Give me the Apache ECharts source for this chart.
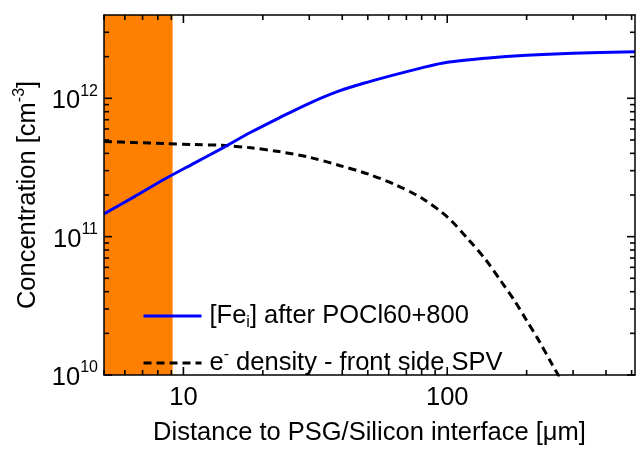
<!DOCTYPE html>
<html>
<head>
<meta charset="utf-8">
<script src="https://cdn.jsdelivr.net/npm/echarts@6/dist/echarts.min.js"></script>
<style>
html,body{margin:0;padding:0;background:#fff;}
#chart{width:641px;height:451px;}
</style>
</head>
<body>
<div id="chart"></div>
<script>
// [Fe_i] after POCl60+800
var feX = [5, 6.5, 8.5, 11, 14, 18, 23, 30, 39, 50, 64, 80, 100, 140, 200, 300, 515];
var feY = [1.46e11, 1.94e11, 2.61e11, 3.4e11, 4.35e11, 5.68e11, 7.2e11, 9.2e11, 1.13e12, 1.31e12, 1.49e12, 1.66e12, 1.82e12, 1.95e12, 2.05e12, 2.12e12, 2.17e12];
// e- density - front side SPV
var eX = [5, 6.5, 8.5, 11, 14, 18, 23, 30, 39, 50, 64, 80, 100, 120, 140, 160, 180, 200, 225, 250, 280];
var eY = [4.87e11, 4.79e11, 4.71e11, 4.63e11, 4.57e11, 4.39e11, 4.12e11, 3.75e11, 3.27e11, 2.84e11, 2.36e11, 1.9e11, 1.39e11, 9.6e10, 6.8e10, 4.76e10, 3.44e10, 2.48e10, 1.71e10, 1.19e10, 8.2e9];
// shaded region
var bandX = [5, 9.1];
// axes
var xRange = [5, 515];
var yRange = [1e10, 4e12];
var xMajor = [10, 100];
var xMinor = [5, 6, 7, 8, 9, 20, 30, 40, 50, 60, 70, 80, 90, 200, 300, 400, 500];
var yMajor = [1e10, 1e11, 1e12];
var yMinor = [2e10, 3e10, 4e10, 5e10, 6e10, 7e10, 8e10, 9e10, 2e11, 3e11, 4e11, 5e11, 6e11, 7e11, 8e11, 9e11, 2e12, 3e12];
var seriesNames = ['fe', 'e'];

var FONT = 'Liberation Sans, Arial, sans-serif';
var FS = 25.5;
var TICK_MAJOR = 8, TICK_MINOR = 5;
function zip(a, b) { return a.map(function (v, i) { return [v, b[i]]; }); }
function lg(arr) { return arr.map(function (v) { return Math.log10(v); }); }

// log axes carry the data; linear-in-log10 axes draw the frame and labels
function dataAxis(range, pos) {
  return { type: 'log', logBase: 10, min: range[0], max: range[1], position: pos, show: false, splitLine: { show: false } };
}
function frameAxis(range, pos) {
  return {
    type: 'value', min: Math.log10(range[0]), max: Math.log10(range[1]), position: pos, z: 10,
    axisLine: { show: true, onZero: false, lineStyle: { color: '#000', width: 1.5 } },
    splitLine: { show: false }, minorTick: { show: false },
    axisTick: { show: false }, axisLabel: { show: false }
  };
}

var xAxes = [dataAxis(xRange, 'bottom'), frameAxis(xRange, 'bottom'), frameAxis(xRange, 'top')];
xAxes[1].axisLabel = {
  show: true, customValues: lg(xMajor), margin: 10, color: '#000', fontSize: FS, fontFamily: FONT,
  formatter: function (v) { return String(Math.round(Math.pow(10, v))); }
};
xAxes[1].name = 'Distance to PSG/Silicon interface [μm]';
xAxes[1].nameLocation = 'middle';
xAxes[1].nameGap = 45;
xAxes[1].nameTextStyle = { fontSize: FS, fontFamily: FONT, color: '#000' };

var yAxes = [dataAxis(yRange, 'left'), frameAxis(yRange, 'left'), frameAxis(yRange, 'right')];
yAxes[1].axisLabel = {
  show: true, customValues: lg(yMajor), margin: 6, color: '#000', fontFamily: FONT,
  formatter: function (v) { return '{b|10}{s|' + Math.round(v) + '}'; },
  rich: {
    b: { fontSize: FS, fontFamily: FONT, color: '#000', verticalAlign: 'middle', padding: [6, 0, 0, 0] },
    s: { fontSize: 16, fontFamily: FONT, color: '#000', verticalAlign: 'middle', padding: [0, 0, 14, 0] }
  }
};
yAxes[1].name = 'Concentration [cm{s|-3}]';
yAxes[1].nameLocation = 'middle';
yAxes[1].nameGap = 57;
yAxes[1].nameTextStyle = {
  fontSize: FS, fontFamily: FONT, color: '#000',
  rich: { s: { fontSize: 16, fontFamily: FONT, color: '#000', verticalAlign: 'middle', padding: [0, 0, 16, 0] } }
};

var legendRich = {
  sub: { fontSize: 16, fontFamily: FONT, color: '#000', verticalAlign: 'middle', padding: [14, 0, 0, 0] },
  sup: { fontSize: 16, fontFamily: FONT, color: '#000', verticalAlign: 'middle', padding: [0, 0, 16, 0] }
};
function legendLabel(name) {
  return name === 'fe' ? '[Fe{sub|i}] after POCl60+800' : 'e{sup|-} density - front side SPV';
}
function makeLegend(name, top) {
  return {
    data: [name], left: 142, top: top, orient: 'vertical', padding: 0,
    itemWidth: 58, itemHeight: 14, itemGap: 0, selectedMode: false,
    itemStyle: { opacity: 0 },
    lineStyle: { width: 3 },
    formatter: legendLabel,
    textStyle: { fontSize: FS, fontFamily: FONT, color: '#000', rich: legendRich, padding: [0, 0, 0, 3] }
  };
}

// tick marks, positioned through the log axes
var xTickData = xMajor.map(function (v) { return [v, yRange[0], 1]; }).concat(xMinor.map(function (v) { return [v, yRange[0], 0]; }));
var yTickData = yMajor.map(function (v) { return [xRange[0], v, 1]; }).concat(yMinor.map(function (v) { return [xRange[0], v, 0]; }));
var tickStyle = { stroke: '#000', lineWidth: 1.6 };
function renderXTick(params, api) {
  var v = api.value(0), len = api.value(2) ? TICK_MAJOR : TICK_MINOR;
  var b = api.coord([v, yRange[0]]), t = api.coord([v, yRange[1]]);
  return { type: 'group', children: [
    { type: 'line', shape: { x1: b[0], y1: b[1], x2: b[0], y2: b[1] - len }, style: tickStyle },
    { type: 'line', shape: { x1: t[0], y1: t[1], x2: t[0], y2: t[1] + len }, style: tickStyle }
  ] };
}
function renderYTick(params, api) {
  var v = api.value(1), len = api.value(2) ? TICK_MAJOR : TICK_MINOR;
  var l = api.coord([xRange[0], v]), r = api.coord([xRange[1], v]);
  return { type: 'group', children: [
    { type: 'line', shape: { x1: l[0], y1: l[1], x2: l[0] + len, y2: l[1] }, style: tickStyle },
    { type: 'line', shape: { x1: r[0], y1: r[1], x2: r[0] - len, y2: r[1] }, style: tickStyle }
  ] };
}

var option = {
  animation: false,
  backgroundColor: '#fff',
  textStyle: { fontFamily: FONT },
  grid: { left: 104, right: 6, top: 15, bottom: 68.5 },
  xAxis: xAxes,
  yAxis: yAxes,
  legend: [makeLegend(seriesNames[0], 303), makeLegend(seriesNames[1], 347)],
  series: [
    {
      name: seriesNames[0], type: 'line', xAxisIndex: 0, yAxisIndex: 0,
      data: zip(feX, feY), showSymbol: false, symbol: 'none', smooth: 0.3,
      lineStyle: { color: '#0000ff', width: 3 }, itemStyle: { color: '#0000ff' }, z: 4,
      markArea: {
        silent: true, z: 1,
        itemStyle: { color: '#ff8000', opacity: 1 },
        data: [[{ xAxis: bandX[0] }, { xAxis: bandX[1] }]]
      }
    },
    {
      name: seriesNames[1], type: 'line', xAxisIndex: 0, yAxisIndex: 0,
      data: zip(eX, eY), showSymbol: false, symbol: 'none', smooth: 0.3,
      lineStyle: { color: '#000', width: 3, type: [8, 5] }, itemStyle: { color: '#000' }, z: 3
    },
    {
      name: 'xticks', type: 'custom', xAxisIndex: 0, yAxisIndex: 0, silent: true, z: 12,
      data: xTickData, renderItem: renderXTick, encode: { x: 0, y: 1 }, clip: false
    },
    {
      name: 'yticks', type: 'custom', xAxisIndex: 0, yAxisIndex: 0, silent: true, z: 12,
      data: yTickData, renderItem: renderYTick, encode: { x: 0, y: 1 }, clip: false
    }
  ]
};
var chart = echarts.init(document.getElementById('chart'), null, { renderer: 'canvas' });
chart.setOption(option);
</script>
</body>
</html>
